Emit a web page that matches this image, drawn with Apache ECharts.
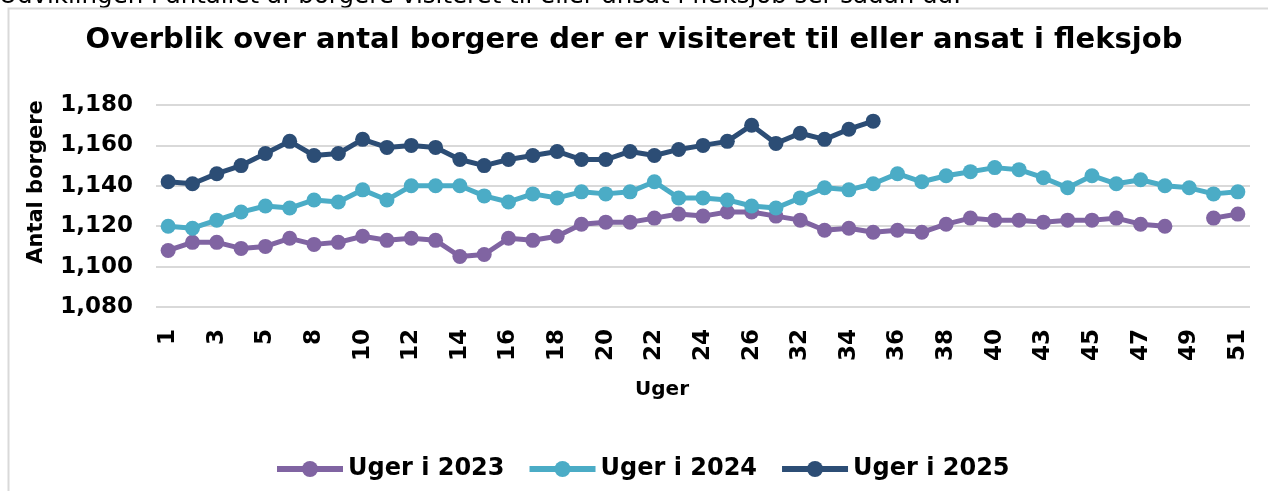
<!DOCTYPE html>
<html>
<head>
<meta charset="utf-8">
<script src="https://cdn.jsdelivr.net/npm/echarts@6/dist/echarts.min.js"></script>
<style>
  html, body { margin: 0; padding: 0; background: #fff; }
  #chart { width: 1268px; height: 491px; }
</style>
</head>
<body>
<div id="chart"></div>
<script>
// uger (mellemliggende uger har ingen label)
const weeks = ['1', '2', '3', '4', '5', '6', '8', '9', '10', '11', '12', '13', '14', '15', '16', '17', '18', '19', '20', '21', '22', '23', '24', '25', '26', '27', '32', '33', '34', '35', '36', '37', '38', '39', '40', '42', '43', '44', '45', '46', '47', '48', '49', '50', '51']

const uger2023 = [1108, 1112, 1112, 1109, 1110, 1114, 1111, 1112, 1115, 1113, 1114, 1113, 1105, 1106, 1114, 1113, 1115, 1121, 1122, 1122, 1124, 1126, 1125, 1127, 1127, 1125, 1123, 1118, 1119, 1117, 1118, 1117, 1121, 1124, 1123, 1123, 1122, 1123, 1123, 1124, 1121, 1120, null, 1124, 1126]
const uger2024 = [1120, 1119, 1123, 1127, 1130, 1129, 1133, 1132, 1138, 1133, 1140, 1140, 1140, 1135, 1132, 1136, 1134, 1137, 1136, 1137, 1142, 1134, 1134, 1133, 1130, 1129, 1134, 1139, 1138, 1141, 1146, 1142, 1145, 1147, 1149, 1148, 1144, 1139, 1145, 1141, 1143, 1140, 1139, 1136, 1137]
const uger2025 = [1142, 1141, 1146, 1150, 1156, 1162, 1155, 1156, 1163, 1159, 1160, 1159, 1153, 1150, 1153, 1155, 1157, 1153, 1153, 1157, 1155, 1158, 1160, 1162, 1170, 1161, 1166, 1163, 1168, 1172]

const yTicks = { min: 1080, max: 1180, interval: 20 }

const font = 'DejaVu Sans, Verdana, sans-serif'

const chart = echarts.init(document.getElementById('chart'))

const mkSeries = (name, data, color) => ({
  name,
  type: 'line',
  data,
  symbol: 'circle',
  symbolSize: 15,
  lineStyle: { width: 5, color },
  itemStyle: { color },
  connectNulls: false
})

chart.setOption({
  animation: false,
  graphic: [
    {
      type: 'text',
      style: {
        x: -1,
        y: 9,
        verticalAlign: 'bottom',
        text: 'Udviklingen i antallet af borgere visiteret til eller ansat i fleksjob ser sådan ud:',
        font: '24.5px ' + font,
        fill: '#000'
      }
    },
    {
      type: 'polyline',
      shape: { points: [[8.5, 491], [8.5, 8.5], [1268, 8.5]] },
      style: { stroke: '#d9d9d9', lineWidth: 2, fill: null }
    }
  ],
  title: {
    text: 'Overblik over antal borgere der er visiteret til eller ansat i fleksjob',
    left: 'center',
    top: 21,
    textStyle: { fontFamily: font, fontWeight: 'bold', fontSize: 29, color: '#000' }
  },
  legend: {
    left: 269,
    top: 452,
    itemWidth: 66,
    itemHeight: 20,
    itemGap: 22,
    lineStyle: { width: 6 },
    textStyle: { fontFamily: font, fontWeight: 'bold', fontSize: 24, color: '#000' }
  },
  grid: { left: 156, right: 18, top: 105, bottom: 184 },
  xAxis: {
    type: 'category',
    data: weeks,
    name: 'Uger',
    nameLocation: 'middle',
    nameGap: 73,
    nameTextStyle: { fontFamily: font, fontWeight: 'bold', fontSize: 20, color: '#000', padding: [0, 82, 0, 0] },
    axisLine: { show: false },
    axisTick: { show: false },
    axisLabel: {
      interval: 1,
      rotate: 90,
      margin: 22,
      fontFamily: font,
      fontWeight: 'bold',
      fontSize: 23,
      color: '#000'
    }
  },
  yAxis: {
    type: 'value',
    min: yTicks.min,
    max: yTicks.max,
    interval: yTicks.interval,
    name: 'Antal borgere',
    nameLocation: 'middle',
    nameGap: 109,
    nameTextStyle: { fontFamily: font, fontWeight: 'bold', fontSize: 21, color: '#000', padding: [0, 0, 0, 48] },
    axisLabel: {
      margin: 23,
      fontFamily: font,
      fontWeight: 'bold',
      fontSize: 23,
      color: '#000',
      formatter: v => v.toLocaleString('en-US')
    },
    splitLine: { lineStyle: { color: '#d9d9d9', width: 2 } }
  },
  series: [
    mkSeries('Uger i 2023', uger2023, '#8064A2'),
    mkSeries('Uger i 2024', uger2024, '#4BACC6'),
    mkSeries('Uger i 2025', uger2025, '#2C4D75')
  ]
})
</script>
</body>
</html>
